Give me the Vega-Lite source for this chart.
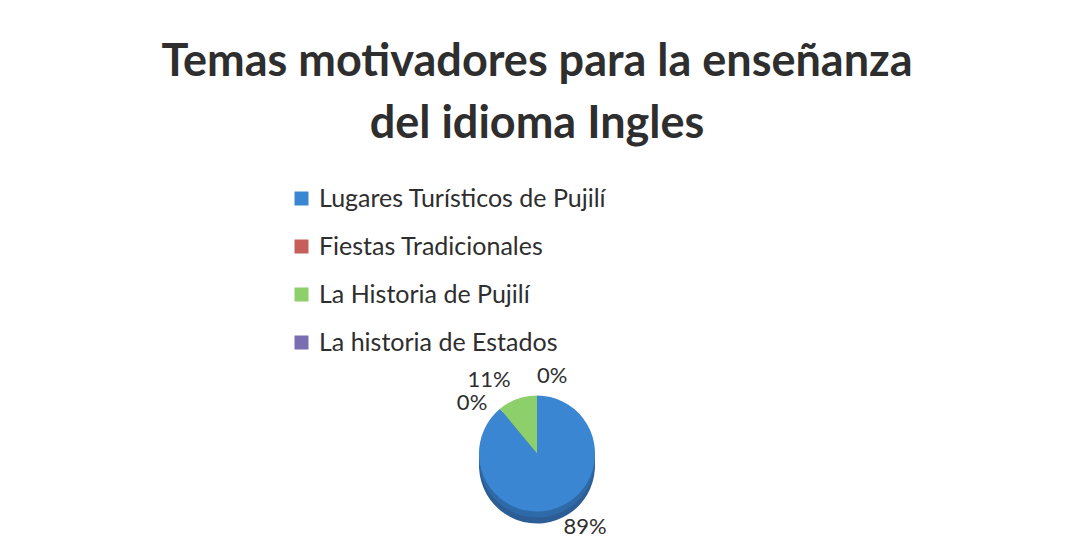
{
  "$schema": "https://vega.github.io/schema/vega-lite/v6.json",
  "width": 1065,
  "height": 549,
  "autosize": {"type": "fit", "contains": "padding"},
  "padding": {"left": 12, "right": 3, "top": 53, "bottom": 20},
  "background": "white",
  "title": {
    "text": ["Temas motivadores para la enseñanza", "del idioma Ingles"],
    "font": "Lato",
    "fontWeight": "bold",
    "fontSize": 45,
    "lineHeight": 62,
    "color": "#2e2e2e",
    "anchor": "middle",
    "offset": 218
  },
  "data": {
    "values": [
      {"idx": 1, "tema": "Lugares Turísticos de Pujilí", "pct": 89, "label": "89%"},
      {"idx": 2, "tema": "Fiestas Tradicionales", "pct": 0, "label": "0%"},
      {"idx": 3, "tema": "La Historia de Pujilí", "pct": 11, "label": "11%"},
      {"idx": 4, "tema": "La historia de Estados", "pct": 0, "label": "0%"}
    ]
  },
  "encoding": {
    "theta": {"field": "pct", "type": "quantitative", "stack": true},
    "order": {"field": "idx", "type": "quantitative"}
  },
  "layer": [
    {
      "mark": {"type": "arc", "outerRadius": 58, "yOffset": 12, "color": "#2c5d95"}
    },
    {
      "mark": {"type": "arc", "outerRadius": 58, "yOffset": 6, "color": "#2f6aa8"}
    },
    {
      "mark": {"type": "arc", "outerRadius": 58},
      "encoding": {
        "color": {
          "field": "tema",
          "type": "nominal",
          "scale": {
            "domain": ["Lugares Turísticos de Pujilí", "Fiestas Tradicionales", "La Historia de Pujilí", "La historia de Estados"],
            "range": ["#3b86d2", "#c65e5b", "#8dcf6a", "#7a6db0"]
          },
          "legend": {
            "title": null,
            "orient": "none",
            "legendX": 277,
            "legendY": -192,
            "symbolType": "square",
            "symbolSize": 196,
            "symbolStrokeWidth": 0,
            "labelFont": "Lato",
            "labelFontSize": 25,
            "labelColor": "#2e2e2e",
            "labelOffset": 5,
            "rowPadding": 22,
            "labelLimit": 500
          }
        }
      }
    },
    {
      "mark": {
        "type": "text",
        "radius": 78,
        "font": "Lato",
        "fontSize": 22,
        "color": "#2e2e2e",
        "align": {"expr": "datum.idx == 2 || datum.idx == 3 ? 'right' : 'left'"},
        "baseline": {"expr": "datum.idx == 2 ? 'top' : 'middle'"}
      },
      "encoding": {"text": {"field": "label", "type": "nominal"}}
    }
  ],
  "config": {"view": {"stroke": null}}
}
